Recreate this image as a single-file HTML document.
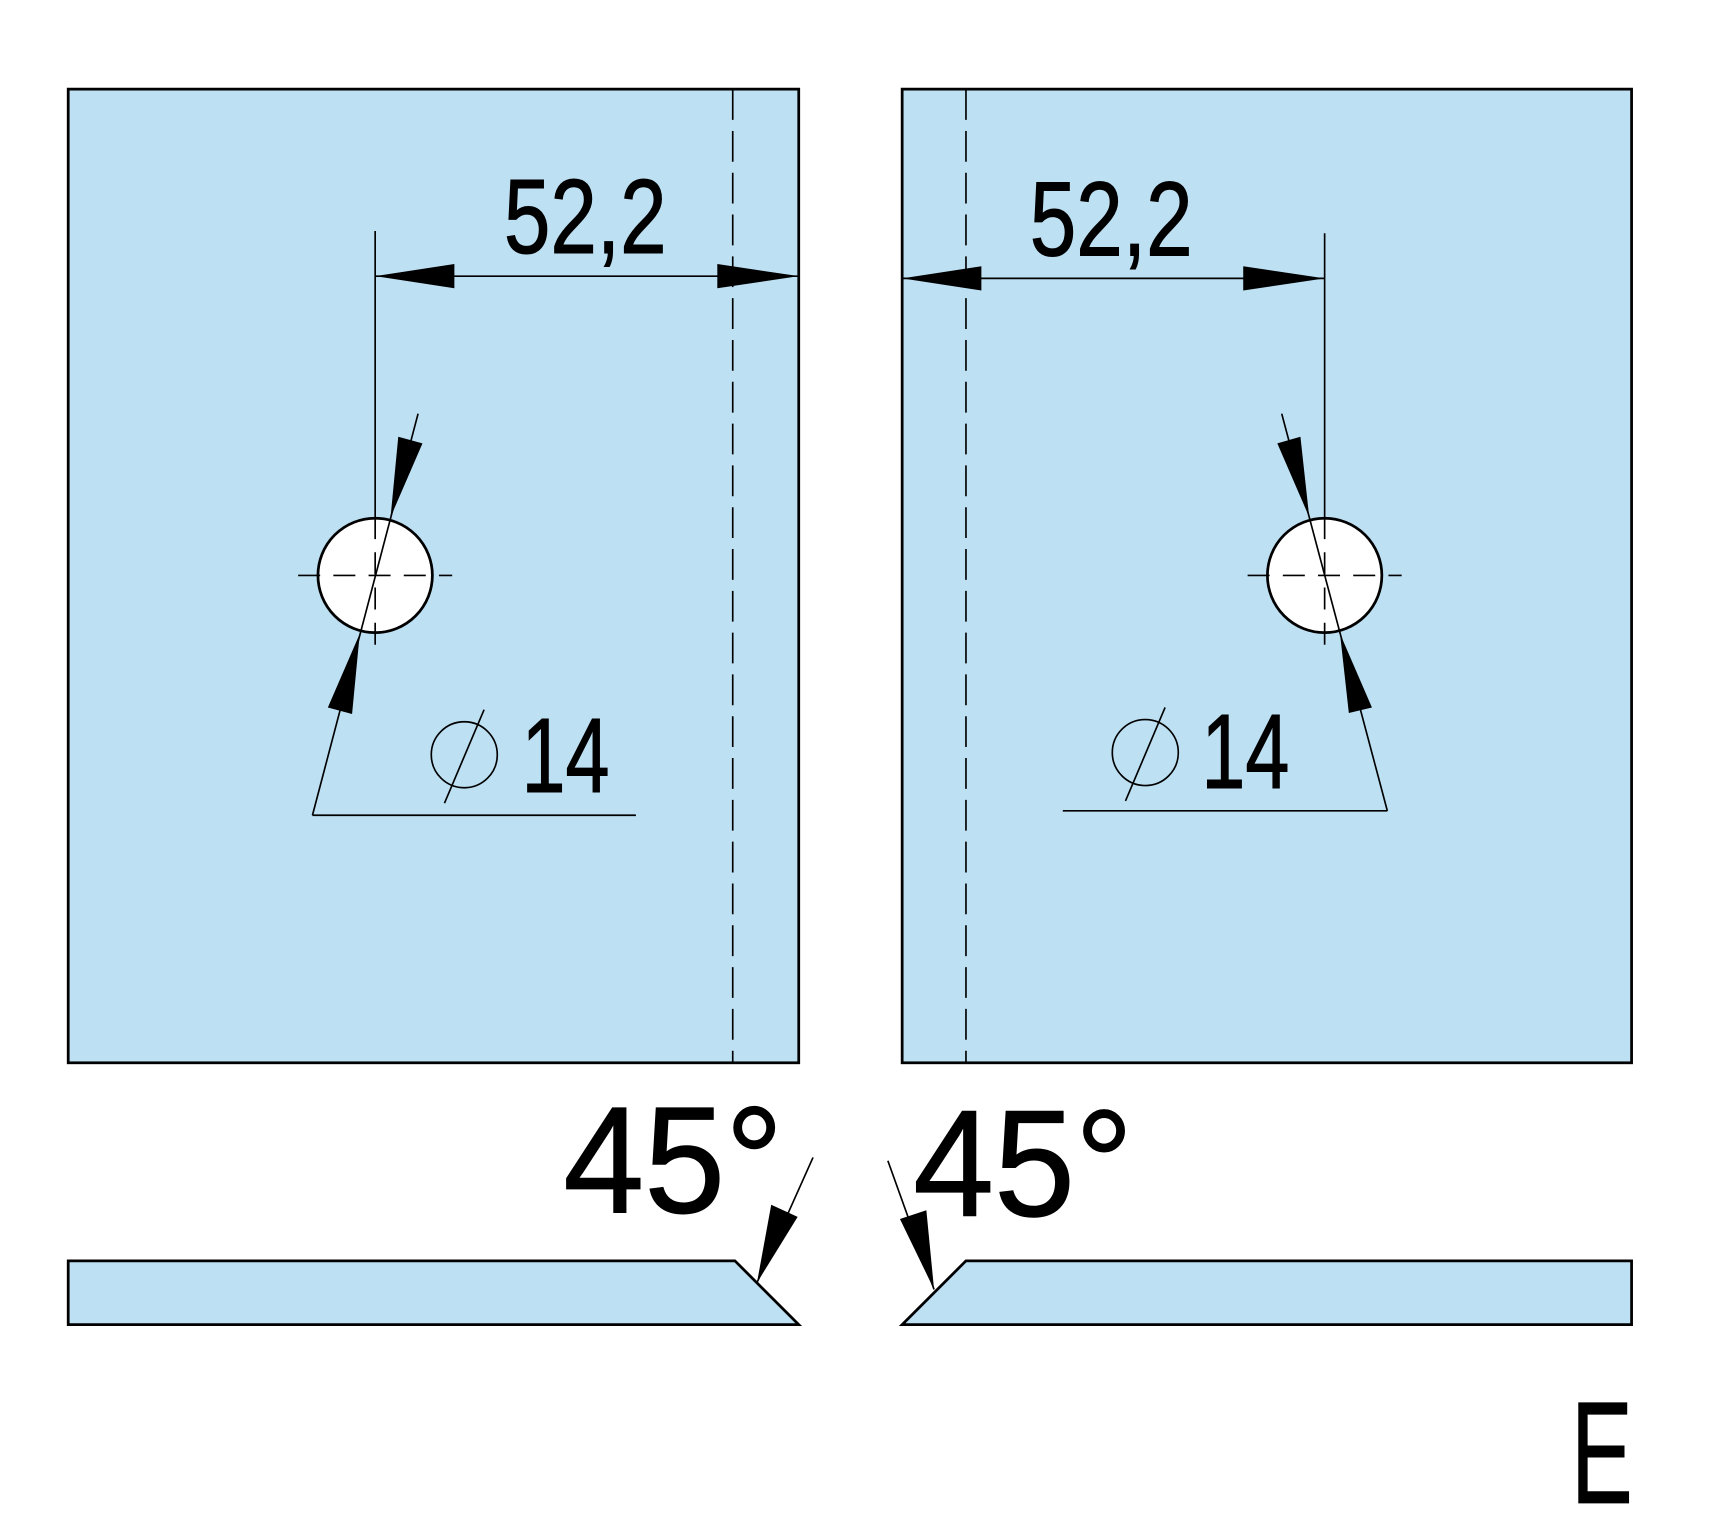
<!DOCTYPE html>
<html><head><style>html,body{margin:0;padding:0;background:#fff}svg{display:block}</style></head><body>
<svg width="1724" height="1537" viewBox="0 0 1567 1397" xmlns="http://www.w3.org/2000/svg" font-family="Liberation Sans, sans-serif">
<g stroke="#000" fill="#bde0f3" stroke-width="2.5">
<rect x="62" y="81" width="664" height="885"/>
<rect x="820" y="81" width="663" height="885"/>
<polygon points="62,1146 668,1146 726,1204 62,1204"/>
<polygon points="878,1146 1483,1146 1483,1204 820,1204"/>
</g>
<g stroke="#000" stroke-width="1.5" fill="none">
<line x1="666" y1="81" x2="666" y2="966" stroke-dasharray="28,10"/>
<line x1="878" y1="81" x2="878" y2="966" stroke-dasharray="28,10"/>
</g>
<g stroke="#000" stroke-width="2.5" fill="#fff">
<circle cx="341" cy="523" r="52"/>
<circle cx="1204" cy="523" r="52"/>
</g>
<g stroke="#000" stroke-width="1.5" fill="none">
<line x1="271" y1="523" x2="411" y2="523" stroke-dasharray="20,12"/>
<line x1="341" y1="210" x2="341" y2="470"/>
<line x1="341" y1="470" x2="341" y2="592" stroke-dasharray="20,12"/>
<line x1="1134" y1="523" x2="1274" y2="523" stroke-dasharray="20,12"/>
<line x1="1204" y1="212" x2="1204" y2="470"/>
<line x1="1204" y1="470" x2="1204" y2="592" stroke-dasharray="20,12"/>
<line x1="341" y1="251" x2="726" y2="251"/>
<line x1="820" y1="253" x2="1204" y2="253"/>
<line x1="380" y1="376" x2="284" y2="741"/>
<line x1="284" y1="741" x2="578" y2="741"/>
<line x1="1165" y1="376" x2="1261" y2="737"/>
<line x1="966" y1="737" x2="1261" y2="737"/>
<circle cx="422" cy="686" r="30"/>
<line x1="404" y1="730" x2="440" y2="645"/>
<circle cx="1041" cy="684" r="30"/>
<line x1="1023" y1="728" x2="1059" y2="643"/>
<line x1="739" y1="1052" x2="688" y2="1166"/>
<line x1="807" y1="1055" x2="849" y2="1172"/>
</g>
<g fill="#000">
<polygon points="341,251 413,240 413,262"/>
<polygon points="726,251 652,240 652,262"/>
<polygon points="820,253 892,242 892,264"/>
<polygon points="1204,253 1130,242 1130,264"/>
<polygon points="355,470 384,403 362,397"/>
<polygon points="327,576 320,649 298,643"/>
<polygon points="1190,470 1182,397 1161,403"/>
<polygon points="1218,576 1247,643 1226,648"/>
<polygon points="688,1166 701,1095 725,1106"/>
<polygon points="849,1172 818,1108 842,1100"/>
</g>
<g fill="#000" stroke="#000" stroke-width="1">
<text x="458" y="230" font-size="96" textLength="148" lengthAdjust="spacingAndGlyphs">52,2</text>
<text x="936" y="232" font-size="96" textLength="148" lengthAdjust="spacingAndGlyphs">52,2</text>
<text x="474" y="720" font-size="96" textLength="80" lengthAdjust="spacingAndGlyphs">14</text>
<text x="1092" y="716" font-size="96" textLength="80" lengthAdjust="spacingAndGlyphs">14</text>
<text x="512" y="1102" font-size="138" textLength="200" lengthAdjust="spacingAndGlyphs">45°</text>
<text x="830" y="1105" font-size="138" textLength="200" lengthAdjust="spacingAndGlyphs">45°</text>
<text x="1428" y="1366" font-size="132" textLength="56" lengthAdjust="spacingAndGlyphs">E</text>
</g>
</svg>
</body></html>
